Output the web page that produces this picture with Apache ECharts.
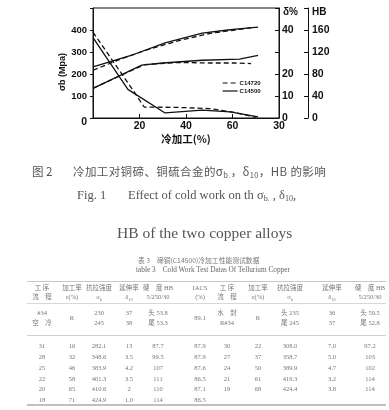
<!DOCTYPE html>
<html>
<head>
<meta charset="utf-8">
<script src="https://cdn.jsdelivr.net/npm/echarts@6/dist/echarts.min.js"></script>
<style>
html,body{margin:0;padding:0;background:#fff;width:389px;height:410px;overflow:hidden;}
#chart{position:absolute;left:0;top:0;width:389px;height:410px;}
.ov{position:absolute;white-space:nowrap;pointer-events:none;}
.cap{color:#555;}
.cn{font-family:"Noto Sans CJK SC",sans-serif;}
.serif{font-family:"Liberation Serif","DejaVu Serif",serif;}
sub{font-size:65%;vertical-align:-2px;line-height:0;}
.tc{position:absolute;transform:translate(-50%,-50%);white-space:nowrap;font-size:6.5px;color:#777;font-family:"Liberation Serif","Noto Sans CJK SC",serif;}
.hl{position:absolute;left:27px;width:359px;background:#c8c8c8;}
</style>
</head>
<body>
<div id="chart"></div>
<div id="overlay"></div>
<script>
// ---------- chart data ----------
const xTickLabels = ['', '20', '40', '60', '30'];
const sigmaTickLabels = ['0', '100', '200', '300', '400', ''];
const deltaTickLabels = ['0', '10', '20', '', '40', ''];
const hbTickLabels = ['0', '40', '80', '120', '160', ''];

const sigmaC14500 = [[0,232],[16,283],[31,341],[47,386],[58,400],[65,407],[71,413]];
const sigmaC14720 = [[0,217],[10,260],[22,306],[37,352],[50,384],[61,400],[68,410]];
const deltaC14500 = [[0,36.5],[15,13],[31,2.3],[47,3.6],[59,2.8],[71,0.5]];
const deltaC14720 = [[0,39],[18,11.4],[22,5],[37,4.8],[50,4.3],[61,2.5],[70,0.3]];
const hbC14500 = [[0,54],[21,96],[30,100],[47,105],[63,107],[71,114]];
const hbC14720 = [[0,54],[22,97],[37,101],[50,100],[61,100],[68,99]];

const seriesNames = ['C14720', 'C14500'];

// ---------- table data ----------
const headTop = ['工 序','加工率','抗拉强度','延伸率','硬　度 HB','IACS','工 序','加工率','抗拉强度','延伸率','硬　度 HB'];
const headBottom = ['流　程','ε(%)','σ<sub>b</sub>','δ<sub>10</sub>','5/250/30','(%)','流　程','ε(%)','σ<sub>b</sub>','δ<sub>10</sub>','5/250/30'];
const firstRow = [['#34','空　冷'],['R'],['230','245'],['37','38'],['头 53.8','尾 53.3'],['89.1'],['水　封','R#34'],['R'],['头 235','尾 245'],['36','37'],['头 59.5','尾 52.8']];
const procLeft = ['31','28','25','22','20','18'];
const workLeft = ['16','32','46','58','65','71'];
const strengthLeft = ['282.1','348.6','383.9','401.3','410.6','424.9'];
const elongLeft = ['13','3.5','4.2','3.5','2','1.0'];
const hbLeft = ['87.7','99.5','107','111','110','114'];
const iacsLeft = ['87.9','87.9','87.6','86.5','87.1','86.5'];
const procRight = ['30','27','24','21','19'];
const workRight = ['22','37','50','61','68'];
const strengthRight = ['308.0','358.7','389.9','419.3','424.4'];
const elongRight = ['7.0','5.0','4.7','3.2','3.8'];
const hbRight = ['97.2','103','102','114','114'];

// ---------- chart ----------
const FONT = '"Liberation Sans", Arial, sans-serif';
const chart = echarts.init(document.getElementById('chart'), null, {renderer: 'canvas'});
const black = '#111';
function lineSeries(name, data, yIdx, dashed) {
  return {
    name: name, type: 'line', yAxisIndex: yIdx, data: data,
    symbol: 'none', smooth: false, animation: false,
    lineStyle: {color: black, width: 1.3, type: dashed ? [5, 3] : 'solid'},
    itemStyle: {color: black}
  };
}
const labelBase = {color: black, fontFamily: FONT, fontWeight: 'bold', fontSize: 10.5};
chart.setOption({
  animation: false,
  backgroundColor: 'transparent',
  grid: {left: 93, right: 110, top: 8, bottom: 292, show: true, borderColor: black, borderWidth: 1, containLabel: false},
  legend: {
    data: seriesNames, orient: 'vertical', left: 217, top: 75,
    itemWidth: 15, itemHeight: 6, itemGap: 2,
    itemStyle: {opacity: 0},
    lineStyle: {width: 1.2},
    textStyle: {fontFamily: FONT, fontWeight: 'bold', fontSize: 6, color: black, padding: [0,0,0,-3]}
  },
  xAxis: {
    type: 'value', min: 0, max: 80, interval: 20,
    axisLine: {lineStyle: {color: black}}, splitLine: {show: false},
    axisTick: {inside: true, length: 4, lineStyle: {color: black}},
    axisLabel: Object.assign({}, labelBase, {margin: 3, formatter: v => xTickLabels[Math.round(v / 20)]}),
    name: '冷加工(%)', nameLocation: 'middle', nameGap: 16,
    nameTextStyle: {fontFamily: '"Noto Sans CJK SC", sans-serif', fontWeight: 'bold', fontSize: 10.5, color: black}
  },
  yAxis: [
    {
      type: 'value', min: 0, max: 500, interval: 100, position: 'left',
      axisLine: {show: true, lineStyle: {color: black}}, splitLine: {show: false},
      axisTick: {show: true, length: 3, lineStyle: {color: black}},
      axisLabel: Object.assign({}, labelBase, {fontSize: 9.5, margin: 6,
        formatter: v => { const t = sigmaTickLabels[Math.round(v / 100)]; return v === 0 ? '{z|' + t + '}' : t; },
        rich: {z: {fontFamily: FONT, fontWeight: 'bold', fontSize: 10.5, color: black, padding: [8, 0, 0, 0]}}}),
      name: 'σb (Mpa)', nameLocation: 'middle', nameGap: 26, nameRotate: 90,
      nameTextStyle: {fontFamily: FONT, fontWeight: 'bold', fontSize: 9, color: black, padding: [0, 18, 0, 0]}
    },
    {
      type: 'value', min: 0, max: 50, interval: 10, position: 'right',
      axisLine: {show: true, lineStyle: {color: black}}, splitLine: {show: false},
      axisTick: {show: true, inside: true, length: 4, lineStyle: {color: black}},
      axisLabel: Object.assign({}, labelBase, {margin: 3, formatter: v => deltaTickLabels[Math.round(v / 10)]}),
      name: 'δ%', nameLocation: 'end', nameGap: -4,
      nameTextStyle: {fontFamily: FONT, fontWeight: 'bold', fontSize: 10, color: black, align: 'left', verticalAlign: 'middle', padding: [0, 0, 0, 4]}
    },
    {
      type: 'value', min: 0, max: 200, interval: 40, position: 'right', offset: 29,
      axisLine: {show: true, lineStyle: {color: black}}, splitLine: {show: false},
      axisTick: {show: true, inside: true, length: 4, lineStyle: {color: black}},
      axisLabel: Object.assign({}, labelBase, {margin: 4, formatter: v => hbTickLabels[Math.round(v / 40)]}),
      name: 'HB', nameLocation: 'end', nameGap: -4,
      nameTextStyle: {fontFamily: FONT, fontWeight: 'bold', fontSize: 10, color: black, align: 'left', verticalAlign: 'middle', padding: [0, 0, 0, 4]}
    }
  ],
  series: [
    lineSeries('C14500', sigmaC14500, 0, false),
    lineSeries('C14720', sigmaC14720, 0, true),
    lineSeries('C14500', deltaC14500, 1, false),
    lineSeries('C14720', deltaC14720, 1, true),
    lineSeries('C14500', hbC14500, 2, false),
    lineSeries('C14720', hbC14720, 2, true)
  ]
});

// ---------- captions & table (text) ----------
const ov = document.getElementById('overlay');
function add(html, cls, style) {
  const d = document.createElement('div');
  d.className = cls; d.innerHTML = html; d.style.cssText = style; ov.appendChild(d); return d;
}
add('图 2', 'ov cap cn', 'left:32px;top:163px;font-size:11.5px;line-height:16px;');
add('冷加工对铜碲、铜硫合金的σ<sub>b.</sub>，δ<sub>10</sub>，HB 的影响', 'ov cap cn', 'left:73px;top:163px;font-size:11.5px;line-height:16px;letter-spacing:0.4px;');
add('Fig. 1', 'ov cap serif', 'left:77px;top:187px;font-size:12.5px;line-height:16px;');
add('Effect of cold work on th σ<sub>b.</sub> , δ<sub>10</sub>,', 'ov cap serif', 'left:128px;top:187px;font-size:12.5px;line-height:16px;');
add('HB of the two copper alloys', 'ov cap serif', 'left:117px;top:223px;font-size:15.5px;line-height:20px;');
add('表 3　碲铜(C14500)冷加工性能测试数据', 'ov cn', 'left:138px;top:255px;font-size:6.8px;line-height:10px;color:#777;');
add('table 3　Cold Work Test Datas Of Tellurium Copper', 'ov serif', 'left:136px;top:265px;font-size:7.3px;line-height:10px;color:#666;');

const colX = [42, 72, 99, 129, 158, 200, 227, 258, 290, 332, 370];
const rowY = [345, 356, 367, 378, 388, 399];
function cell(txt, x, y) { add(txt, 'tc', 'left:' + x + 'px;top:' + y + 'px;'); }
// lines
add('', 'hl', 'top:281px;height:1px;');
add('', 'hl', 'top:303px;height:1px;background:#d8d8d8;');
add('', 'hl', 'top:335px;height:1px;background:#d0d0d0;');
add('', 'hl', 'top:404px;height:2px;background:#c0c0c0;');
// header
headTop.forEach((t, i) => cell(t, colX[i], 287));
headBottom.forEach((t, i) => cell(t, colX[i], 296));
// first row (two-line cells)
firstRow.forEach((c, i) => {
  if (c.length === 2) { cell(c[0], colX[i], 312); cell(c[1], colX[i], 322); }
  else cell(c[0], colX[i], 317);
});
// data rows
const leftCols = [procLeft, workLeft, strengthLeft, elongLeft, hbLeft, iacsLeft];
leftCols.forEach((col, ci) => col.forEach((v, ri) => cell(v, colX[ci], rowY[ri])));
const rightCols = [procRight, workRight, strengthRight, elongRight, hbRight];
rightCols.forEach((col, ci) => col.forEach((v, ri) => cell(v, colX[6 + ci], rowY[ri])));
</script>
</body>
</html>
